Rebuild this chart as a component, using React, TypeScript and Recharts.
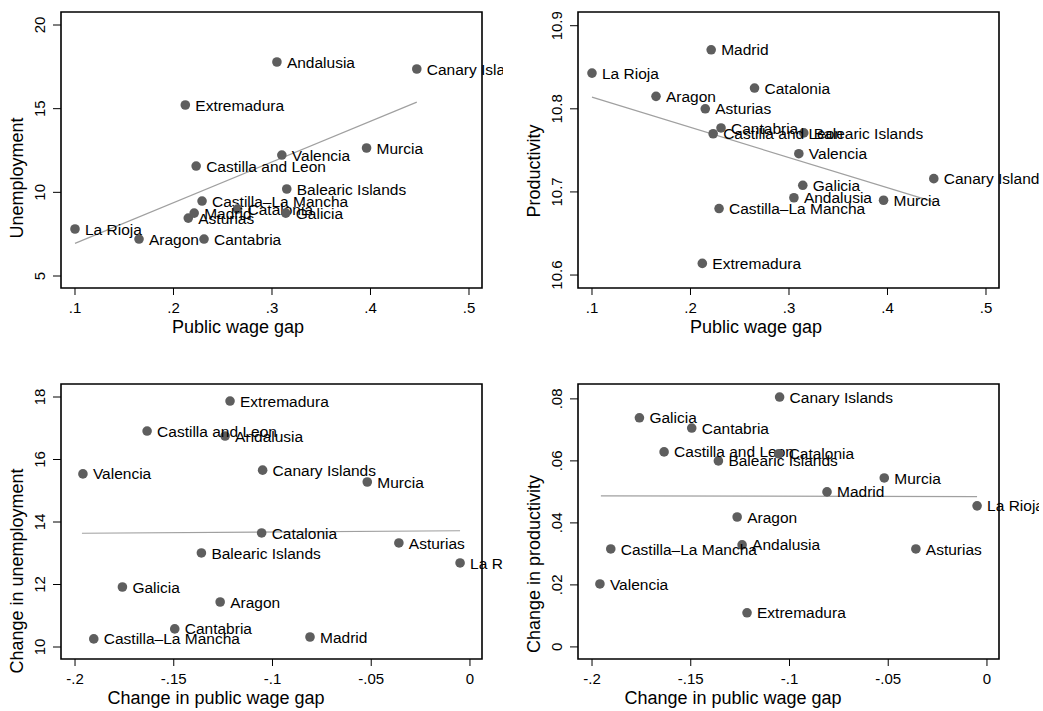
import {
  ReferenceArea,
  ReferenceLine,
  Scatter,
  ScatterChart,
  XAxis,
  YAxis,
} from "recharts";

// ---- data ----
const regions = [
  "Andalusia",
  "Aragon",
  "Asturias",
  "Balearic Islands",
  "Canary Islands",
  "Cantabria",
  "Castilla–La Mancha",
  "Castilla and Leon",
  "Catalonia",
  "Extremadura",
  "Galicia",
  "La Rioja",
  "Madrid",
  "Murcia",
  "Valencia",
];

const wageGap = [0.305, 0.165, 0.215, 0.315, 0.447, 0.231, 0.229, 0.223, 0.265, 0.212, 0.314, 0.1, 0.221, 0.396, 0.31];
const unemployment = [17.79, 7.21, 8.46, 10.2, 17.37, 7.21, 9.48, 11.57, 9.0, 15.22, 8.76, 7.81, 8.76, 12.65, 12.23];
const productivity = [10.693, 10.815, 10.8, 10.771, 10.716, 10.777, 10.68, 10.77, 10.825, 10.614, 10.708, 10.843, 10.871, 10.69, 10.746];

const dWageGap = [-0.124, -0.1265, -0.036, -0.136, -0.105, -0.1495, -0.1905, -0.1635, -0.1055, -0.1215, -0.176, -0.005, -0.081, -0.052, -0.196];
const dUnemployment = [16.75, 11.44, 13.33, 13.01, 15.66, 10.58, 10.26, 16.91, 13.65, 17.87, 11.92, 12.69, 10.32, 15.28, 15.54];
const dProductivity = [0.0329, 0.0419, 0.0316, 0.06, 0.0806, 0.0706, 0.0316, 0.0629, 0.0623, 0.011, 0.0739, 0.0455, 0.05, 0.0545, 0.0203];

// fitted lines (end points as drawn)
const fitUnemp = [{ x: 0.1, y: 6.95 }, { x: 0.447, y: 15.39 }];
const fitProd = [{ x: 0.1, y: 10.814 }, { x: 0.447, y: 10.688 }];
const fitDUnemp = [{ x: -0.1965, y: 13.64 }, { x: -0.005, y: 13.72 }];
const fitDProd = [{ x: -0.1955, y: 0.0487 }, { x: -0.005, y: 0.0485 }];

const levelTicks = [0.1, 0.2, 0.3, 0.4, 0.5];
const changeTicks = [-0.2, -0.15, -0.1, -0.05, 0];
const unempTicks = [5, 10, 15, 20];
const prodTicks = [10.6, 10.7, 10.8, 10.9];
const dUnempTicks = [10, 12, 14, 16, 18];
const dProdTicks = [0, 0.02, 0.04, 0.06, 0.08];

const FONT = '"Liberation Sans", Arial, sans-serif';
const DOT = "#5e5e5e";

function fmt(v: number) {
  const s = String(+v.toFixed(4));
  return s.replace(/^(-?)0\./, "$1.");
}

function build(xs: number[], ys: number[]) {
  return regions.map((name, i) => ({ name, x: xs[i], y: ys[i] }));
}

const PLOT_LEFT = 61;
const PLOT_TOP = 12;
const PLOT_W = 421;

interface PanelProps {
  left: number;
  top: number;
  width: number;
  height: number;
  plotH: number;
  data: { name: string; x: number; y: number }[];
  xDomain: [number, number];
  yDomain: [number, number];
  xTicks: number[];
  yTicks: number[];
  fit: { x: number; y: number }[];
  xTitle: string;
  yTitle: string;
  xTitleCx: number;
  yTitleCy: number;
}

function Panel(p: PanelProps) {
  const xAxisH = p.height - PLOT_TOP - p.plotH;
  const bottom = PLOT_TOP + p.plotH;

  const xTick = ({ x, y, payload }: any) => (
    <text x={x} y={y} dy="0.71em" textAnchor="middle" fontSize={15} fontFamily={FONT} fill="#000">
      {fmt(payload.value)}
    </text>
  );
  const yTick = ({ x, y, payload }: any) => (
    <text
      x={x}
      y={y}
      transform={`rotate(-90 ${x} ${y})`}
      textAnchor="middle"
      fontSize={15}
      fontFamily={FONT}
      fill="#000"
    >
      {fmt(payload.value)}
    </text>
  );

  const dot = (props: any) => {
    const { cx, cy, payload } = props;
    return (
      <g>
        <circle cx={cx} cy={cy} r={4.8} fill={DOT} />
        <text x={cx + 10} y={cy} dy="0.36em" fontSize={15.5} fontFamily={FONT} fill="#000">
          {payload.name}
        </text>
      </g>
    );
  };

  return (
    <div style={{ position: "absolute", left: p.left, top: p.top }}>
      <ScatterChart
        width={p.width}
        height={p.height}
        margin={{ top: PLOT_TOP, left: 0, right: p.width - PLOT_LEFT - PLOT_W, bottom: 0 }}
      >
        <XAxis
          type="number"
          dataKey="x"
          domain={p.xDomain}
          ticks={p.xTicks}
          height={xAxisH}
          axisLine={false}
          tickLine={{ stroke: "#000" }}
          tickSize={7}
          tickMargin={7}
          tick={xTick}
          label={() => (
            <text
              x={PLOT_LEFT + p.xTitleCx}
              y={bottom + 45}
              textAnchor="middle"
              fontSize={18}
              fontFamily={FONT}
              fill="#000"
            >
              {p.xTitle}
            </text>
          )}
        />
        <YAxis
          type="number"
          dataKey="y"
          domain={p.yDomain}
          ticks={p.yTicks}
          width={PLOT_LEFT}
          axisLine={false}
          tickLine={{ stroke: "#000" }}
          tickSize={8}
          tickMargin={8}
          tick={yTick}
          label={() => (
            <text
              x={PLOT_LEFT - 38}
              y={PLOT_TOP + p.yTitleCy}
              transform={`rotate(-90 ${PLOT_LEFT - 38} ${PLOT_TOP + p.yTitleCy})`}
              textAnchor="middle"
              fontSize={18}
              fontFamily={FONT}
              fill="#000"
            >
              {p.yTitle}
            </text>
          )}
        />
        <ReferenceArea
          x1={p.xDomain[0]}
          x2={p.xDomain[1]}
          y1={p.yDomain[0]}
          y2={p.yDomain[1]}
          fill="none"
          stroke="#000"
          strokeWidth={1.6}
          ifOverflow="visible"
        />
        <ReferenceLine segment={p.fit} stroke="#a0a0a0" strokeWidth={1.2} ifOverflow="visible" />
        <Scatter data={p.data} shape={dot} isAnimationActive={false} />
      </ScatterChart>
    </div>
  );
}

export default function App() {
  const levelX: [number, number] = [0.0858, 0.5132];
  const changeX: [number, number] = [-0.2071, 0.0061];
  return (
    <div style={{ position: "absolute", left: 0, top: 0, width: 1043, height: 711, background: "#fff" }}>
      <Panel
        left={0}
        top={0}
        width={503}
        height={355}
        plotH={276}
        data={build(wageGap, unemployment)}
        xDomain={levelX}
        yDomain={[4.283, 20.777]}
        xTicks={levelTicks}
        yTicks={unempTicks}
        fit={fitUnemp}
        xTitle="Public wage gap"
        yTitle="Unemployment"
        xTitleCx={177}
        yTitleCy={166}
      />
      <Panel
        left={517}
        top={0}
        width={522}
        height={355}
        plotH={276}
        data={build(wageGap, productivity)}
        xDomain={levelX}
        yDomain={[10.5844, 10.9165]}
        xTicks={levelTicks}
        yTicks={prodTicks}
        fit={fitProd}
        xTitle="Public wage gap"
        yTitle="Productivity"
        xTitleCx={178}
        yTitleCy={159}
      />
      <Panel
        left={0}
        top={372}
        width={503}
        height={339}
        plotH={275}
        data={build(dWageGap, dUnemployment)}
        xDomain={changeX}
        yDomain={[9.616, 18.416]}
        xTicks={changeTicks}
        yTicks={dUnempTicks}
        fit={fitDUnemp}
        xTitle="Change in public wage gap"
        yTitle="Change in unemployment"
        xTitleCx={155}
        yTitleCy={187}
      />
      <Panel
        left={517}
        top={372}
        width={522}
        height={339}
        plotH={275}
        data={build(dWageGap, dProductivity)}
        xDomain={changeX}
        yDomain={[-0.0039, 0.0848]}
        xTicks={changeTicks}
        yTicks={dProdTicks}
        fit={fitDProd}
        xTitle="Change in public wage gap"
        yTitle="Change in productivity"
        xTitleCx={155}
        yTitleCy={180}
      />
    </div>
  );
}
